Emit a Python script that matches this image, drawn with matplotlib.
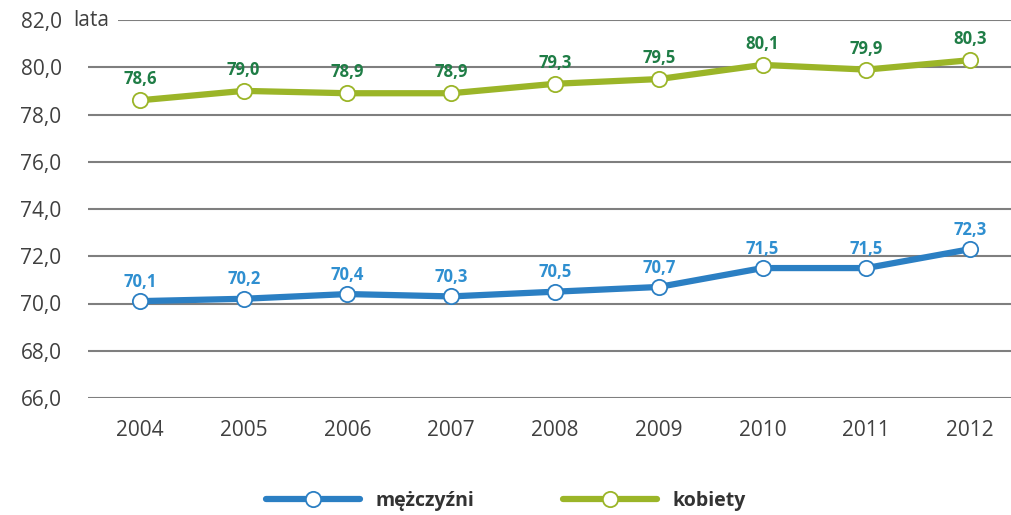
import matplotlib.pyplot as plt
from matplotlib.ticker import MultipleLocator, FuncFormatter

years = ["2004", "2005", "2006", "2007", "2008", "2009", "2010", "2011", "2012"]
men = [70.1, 70.2, 70.4, 70.3, 70.5, 70.7, 71.5, 71.5, 72.3]
women = [78.6, 79.0, 78.9, 78.9, 79.3, 79.5, 80.1, 79.9, 80.3]

blue_line = "#2b7fc3"
blue_text = "#2f8fd0"
green_line = "#9bb528"
green_text = "#1f7d46"

plt.rcParams['font.family'] = ['Open Sans', 'DejaVu Sans']

fig = plt.figure(figsize=(10.11, 5.15), dpi=100)
ax = fig.add_axes([88 / 1011, 117 / 515, 934 / 1011, 378 / 515])

x = list(range(len(years)))
ax.grid(axis="y", color="#7f7f7f", linewidth=1.5, zorder=0)
for s in ax.spines.values():
    s.set_visible(False)

l1, = ax.plot(x, men, color=blue_line, lw=4.5, marker="o", ms=11,
              mfc="white", mec=blue_line, mew=1.3, zorder=5, label="mężczyźni",
              solid_capstyle="round")
l2, = ax.plot(x, women, color=green_line, lw=4.5, marker="o", ms=11,
              mfc="white", mec=green_line, mew=1.3, zorder=5, label="kobiety",
              solid_capstyle="round")

for i in x:
    ax.annotate(f"{men[i]:.1f}".replace(".", ","), (i, men[i]), xytext=(0, 14),
                textcoords="offset points", ha="center", va="center",
                fontsize=12, fontweight="bold", color=blue_text, zorder=6)
    ax.annotate(f"{women[i]:.1f}".replace(".", ","), (i, women[i]), xytext=(0, 15),
                textcoords="offset points", ha="center", va="center",
                fontsize=12, fontweight="bold", color=green_text, zorder=6)

ax.set_xlim(-0.5, len(years) - 0.5)
ax.set_ylim(66, 82)
ax.yaxis.set_major_locator(MultipleLocator(2))
ax.yaxis.set_major_formatter(FuncFormatter(lambda v, p: f"{v:.1f}".replace(".", ",")))
ax.set_xticks(x)
ax.set_xticklabels(years)
ax.tick_params(axis="both", length=0, labelsize=15, colors="#404040")
ax.tick_params(axis="y", pad=19)
ax.tick_params(axis="x", pad=16)

# cover the start of the top gridline, then put the unit label there
fig.patches.append(plt.Rectangle((88 / 1011, 489 / 515), 30 / 1011, 12 / 515,
                                 transform=fig.transFigure, facecolor="white",
                                 edgecolor="none", zorder=9))
fig.text(73 / 1011, 495 / 515, "lata", ha="left", va="center", fontsize=15,
         color="#404040", zorder=10)

leg = fig.legend(handles=[l1, l2], loc="center", bbox_to_anchor=(506 / 1011, 14 / 515),
                 ncol=2, frameon=False, handlelength=4.8, columnspacing=4.6,
                 handletextpad=0.8, prop={"weight": "bold", "size": 14})
for t in leg.get_texts():
    t.set_color("#333333")

fig.savefig("out.png", dpi=100)
